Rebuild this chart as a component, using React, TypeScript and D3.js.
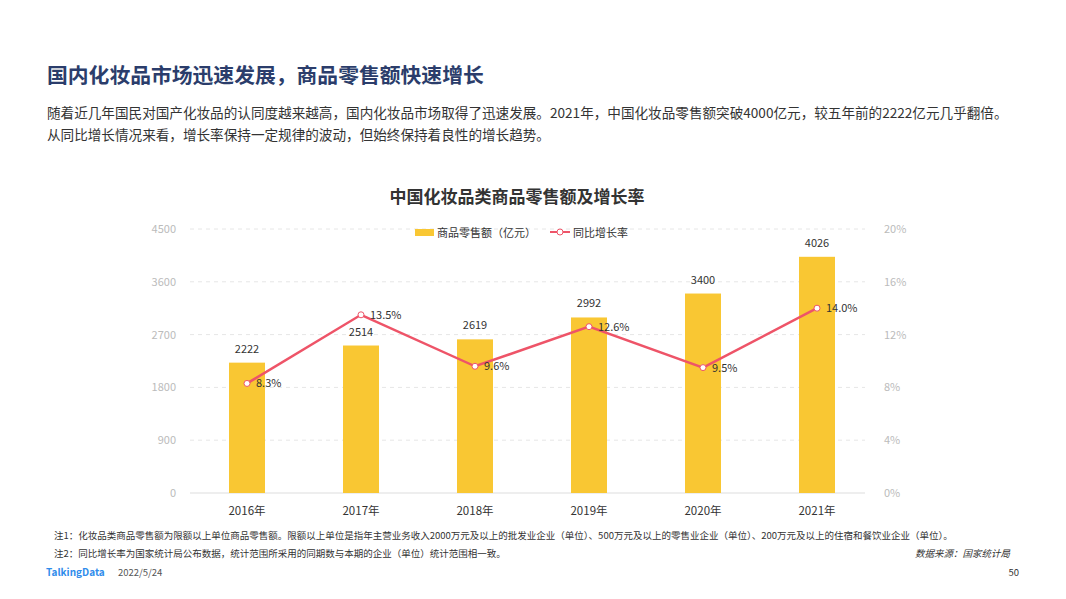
import { useRef, useEffect } from "react";
import * as d3 from "d3";

const years = ["2016年", "2017年", "2018年", "2019年", "2020年", "2021年"];
const sales = [2222, 2514, 2619, 2992, 3400, 4026];
const growth = [8.3, 13.5, 9.6, 12.6, 9.5, 14.0];
const leftTicks = [0, 900, 1800, 2700, 3600, 4500];
const rightTicks = [0, 4, 8, 12, 16, 20];

const FONT = "'Noto Sans CJK SC', 'Noto Sans', sans-serif";

const App = () => {
  const svgRef = useRef(null);

  useEffect(() => {
    const svg = d3.select(svgRef.current);
    svg.selectAll("*").remove();

    const width = 1066;
    const height = 599;
    svg.attr("width", width).attr("height", height).style("font-family", FONT);

    svg.append("rect").attr("width", width).attr("height", height).attr("fill", "#fff");

    // header
    svg.append("text").attr("x", 47).attr("y", 83).attr("font-size", 20.8).attr("font-weight", "bold")
      .attr("fill", "#2B3D6B").text("国内化妆品市场迅速发展，商品零售额快速增长");
    svg.append("text").attr("x", 47).attr("y", 118).attr("font-size", 13.6).attr("fill", "#333")
      .text("随着近几年国民对国产化妆品的认同度越来越高，国内化妆品市场取得了迅速发展。2021年，中国化妆品零售额突破4000亿元，较五年前的2222亿元几乎翻倍。");
    svg.append("text").attr("x", 47).attr("y", 140).attr("font-size", 13.6).attr("fill", "#333")
      .text("从同比增长情况来看，增长率保持一定规律的波动，但始终保持着良性的增长趋势。");

    // chart title
    svg.append("text").attr("x", 517).attr("y", 203).attr("text-anchor", "middle").attr("font-size", 17)
      .attr("font-weight", "bold").attr("fill", "#333").text("中国化妆品类商品零售额及增长率");

    const left = 190, right = 874, top = 229, bottom = 493;

    const x = d3.scaleBand().domain(years).range([left, right]);
    const yL = d3.scaleLinear().domain([0, 4500]).range([bottom, top]);
    const yR = d3.scaleLinear().domain([0, 20]).range([bottom, top]);

    // grid
    svg.append("g").selectAll("line").data(leftTicks.slice(1)).enter().append("line")
      .attr("x1", left).attr("x2", right - 9)
      .attr("y1", (d) => yL(d)).attr("y2", (d) => yL(d))
      .attr("stroke", "#E6E6E6").attr("stroke-dasharray", "4,4");
    svg.append("line").attr("x1", left).attr("x2", right - 9).attr("y1", bottom).attr("y2", bottom)
      .attr("stroke", "#DDDDDD");

    svg.append("g").selectAll("text").data(leftTicks).enter().append("text")
      .attr("x", 176).attr("y", (d) => yL(d) + 4).attr("text-anchor", "end")
      .attr("font-size", 11).attr("fill", "#BBBBBB").text((d) => d);
    svg.append("g").selectAll("text").data(rightTicks).enter().append("text")
      .attr("x", 884).attr("y", (d) => yR(d) + 4)
      .attr("font-size", 11).attr("fill", "#BBBBBB").text((d) => d + "%");

    // bars
    const bw = 36;
    svg.append("g").selectAll("rect").data(sales).enter().append("rect")
      .attr("x", (d, i) => x(years[i]) + x.bandwidth() / 2 - bw / 2)
      .attr("y", (d) => yL(d)).attr("width", bw).attr("height", (d) => bottom - yL(d))
      .attr("fill", "#F9C733");
    svg.append("g").selectAll("text").data(sales).enter().append("text")
      .attr("x", (d, i) => x(years[i]) + x.bandwidth() / 2).attr("y", (d) => yL(d) - 10)
      .attr("text-anchor", "middle").attr("font-size", 11).attr("fill", "#333").text((d) => d);

    // x labels
    svg.append("g").selectAll("text").data(years).enter().append("text")
      .attr("x", (d) => x(d) + x.bandwidth() / 2).attr("y", 515).attr("text-anchor", "middle")
      .attr("font-size", 11.5).attr("fill", "#333").text((d) => d);

    // line
    const line = d3.line().x((d, i) => x(years[i]) + x.bandwidth() / 2).y((d) => yR(d));
    svg.append("path").datum(growth).attr("d", line).attr("fill", "none")
      .attr("stroke", "#EE5468").attr("stroke-width", 2.5);
    svg.append("g").selectAll("circle").data(growth).enter().append("circle")
      .attr("cx", (d, i) => x(years[i]) + x.bandwidth() / 2).attr("cy", (d) => yR(d)).attr("r", 3)
      .attr("fill", "#fff").attr("stroke", "#EE5468").attr("stroke-width", 1);
    svg.append("g").selectAll("text").data(growth).enter().append("text")
      .attr("x", (d, i) => x(years[i]) + x.bandwidth() / 2 + 9).attr("y", (d) => yR(d) + 4)
      .attr("font-size", 11).attr("fill", "#333").text((d) => d.toFixed(1) + "%");

    // legend
    svg.append("rect").attr("x", 415).attr("y", 229).attr("width", 19).attr("height", 7).attr("fill", "#F9C733");
    svg.append("text").attr("x", 437).attr("y", 237).attr("font-size", 11).attr("fill", "#333").text("商品零售额（亿元）");
    svg.append("line").attr("x1", 550).attr("x2", 570).attr("y1", 232).attr("y2", 232)
      .attr("stroke", "#EE5468").attr("stroke-width", 2);
    svg.append("circle").attr("cx", 560).attr("cy", 232).attr("r", 3).attr("fill", "#fff").attr("stroke", "#EE5468");
    svg.append("text").attr("x", 573).attr("y", 237).attr("font-size", 11).attr("fill", "#333").text("同比增长率");

    // notes
    svg.append("text").attr("x", 54).attr("y", 539).attr("font-size", 9.5).attr("fill", "#333")
      .text("注1：化妆品类商品零售额为限额以上单位商品零售额。限额以上单位是指年主营业务收入2000万元及以上的批发业企业（单位）、500万元及以上的零售业企业（单位）、200万元及以上的住宿和餐饮业企业（单位）。");
    svg.append("text").attr("x", 54).attr("y", 557).attr("font-size", 9.5).attr("fill", "#333")
      .text("注2：同比增长率为国家统计局公布数据，统计范围所采用的同期数与本期的企业（单位）统计范围相一致。");
    svg.append("text").attr("x", 1010).attr("y", 557).attr("text-anchor", "end").attr("font-size", 9.5)
      .attr("font-style", "italic").attr("fill", "#333").text("数据来源：国家统计局");

    svg.append("text").attr("x", 46).attr("y", 576).attr("font-size", 10).attr("font-weight", "bold")
      .attr("fill", "#2F8CEB").text("TalkingData");
    svg.append("text").attr("x", 118).attr("y", 576).attr("font-size", 9.5).attr("fill", "#555").text("2022/5/24");
    svg.append("text").attr("x", 1019).attr("y", 576).attr("text-anchor", "end").attr("font-size", 9.5)
      .attr("fill", "#333").text("50");
  }, []);

  return <svg ref={svgRef} style={{ display: "block", margin: -8 }}></svg>;
};

export default App;
